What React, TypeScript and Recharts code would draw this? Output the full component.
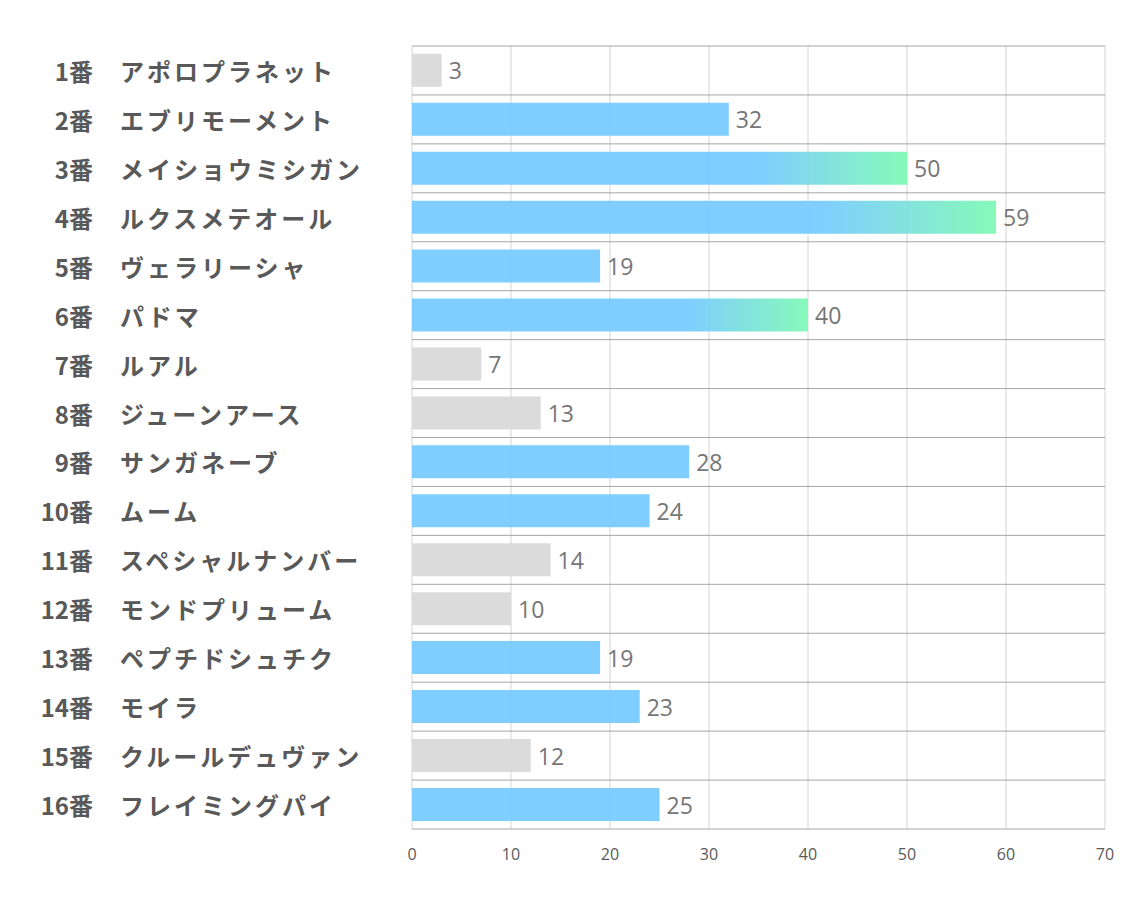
import { Bar, BarChart, CartesianGrid, Cell, LabelList, XAxis, YAxis } from "recharts";

const numbers = ["1番", "2番", "3番", "4番", "5番", "6番", "7番", "8番", "9番", "10番", "11番", "12番", "13番", "14番", "15番", "16番"];
const horses = [
  "アポロプラネット",
  "エブリモーメント",
  "メイショウミシガン",
  "ルクスメテオール",
  "ヴェラリーシャ",
  "パドマ",
  "ルアル",
  "ジューンアース",
  "サンガネーブ",
  "ムーム",
  "スペシャルナンバー",
  "モンドプリューム",
  "ペプチドシュチク",
  "モイラ",
  "クルールデュヴァン",
  "フレイミングパイ"
];
const scores = [3, 32, 50, 59, 19, 40, 7, 13, 28, 24, 14, 10, 19, 23, 12, 25];
const xTicks = [0, 10, 20, 30, 40, 50, 60, 70];

const data = horses.map((name, i) => ({ key: `${numbers[i]}|${name}`, score: scores[i] }));

const GRAY = "#d9d9d9";
const BLUE = "#79cbff";
const GREEN = "#80f9b6";
const LABEL = "#595959";

function fillFor(v: number) {
  if (v < 15) return GRAY;
  if (v >= 40) return "url(#hotBar)";
  return BLUE;
}

function HorseTick(props: any) {
  const { y, payload } = props;
  const [num, name] = String(payload.value).split("|");
  return (
    <g>
      <text
        x={93}
        y={y}
        textAnchor="end"
        dominantBaseline="central"
        fill={LABEL}
        fontSize={24}
        fontWeight="bold"
        fontFamily="'Noto Sans CJK JP', sans-serif"
      >
        {num}
      </text>
      <text
        x={120}
        y={y}
        textAnchor="start"
        dominantBaseline="central"
        fill={LABEL}
        fontSize={24}
        fontWeight="bold"
        letterSpacing={3}
        fontFamily="'Noto Sans CJK JP', sans-serif"
      >
        {name}
      </text>
    </g>
  );
}

// lines between rows, not through the middle of them
const rowBoundaries = ({ offset }: any) =>
  Array.from({ length: horses.length + 1 }, (_, i) => offset.top + (i * offset.height) / horses.length);

export default function App() {
  return (
    <div style={{ position: "absolute", left: 0, top: 0, background: "#fff" }}>
      <BarChart
        width={1134}
        height={907}
        data={data}
        layout="vertical"
        margin={{ top: 46, right: 29, left: 0, bottom: 48 }}
        barCategoryGap="16%"
      >
        <defs>
          <linearGradient id="hotBar" x1="0" y1="0" x2="1" y2="0">
            <stop offset="0%" stopColor={BLUE} />
            <stop offset="70%" stopColor={BLUE} />
            <stop offset="100%" stopColor={GREEN} />
          </linearGradient>
        </defs>
        <CartesianGrid horizontal={false} stroke="#d4d4d4" />
        <CartesianGrid vertical={false} stroke="#a6a6a6" horizontalCoordinatesGenerator={rowBoundaries} />
        <XAxis
          type="number"
          domain={[0, 70]}
          ticks={xTicks}
          axisLine={false}
          tickLine={false}
          tickMargin={14}
          tick={{ fill: LABEL, fontSize: 16, fontFamily: "'Open Sans', sans-serif" }}
        />
        <YAxis
          type="category"
          dataKey="key"
          width={412}
          axisLine={false}
          tickLine={false}
          interval={0}
          tick={<HorseTick />}
        />
        <Bar dataKey="score" isAnimationActive={false} fillOpacity={0.95}>
          {data.map((d) => (
            <Cell key={d.key} fill={fillFor(d.score)} />
          ))}
          <LabelList
            dataKey="score"
            position="right"
            offset={7}
            fill="#767676"
            fontSize={23}
            dy={1}
            fontFamily="'Open Sans', sans-serif"
          />
        </Bar>
      </BarChart>
    </div>
  );
}
